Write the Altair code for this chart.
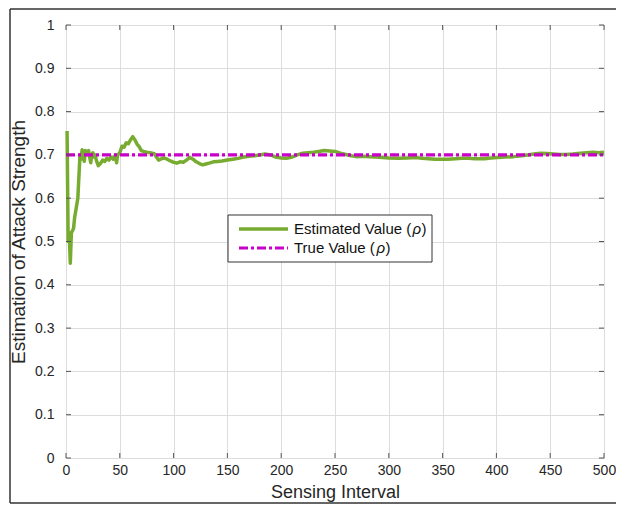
import altair as alt
import pandas as pd

# ---- data ----
est_x = [1, 2, 3, 4, 5, 6, 7, 8, 9, 10, 11, 12, 13, 14, 15, 16, 17, 18, 19, 20,
         21, 22, 23, 24, 25, 26, 27, 28, 29, 30, 32, 34, 36, 38, 40, 42, 44, 46, 47, 48,
         50, 52, 54, 56, 58, 60, 62, 63, 64, 66, 68, 70, 72, 75, 78, 82, 84, 86, 88, 91,
         94, 97, 100, 103, 106, 109, 112, 115, 118, 121, 124, 127, 130, 133, 137, 141, 145, 150, 155, 160,
         165, 170, 175, 180, 185, 190, 195, 200, 205, 210, 215, 220, 225, 230, 235, 240, 245, 250, 255, 260,
         265, 270, 276, 282, 288, 294, 300, 309, 317, 325, 331, 337, 343, 349, 355, 362, 368, 374, 380, 389,
         395, 401, 408, 416, 423, 429, 435, 441, 447, 453, 459, 465, 471, 478, 484, 490, 495, 500]
est_y = [0.755, 0.500, 0.520, 0.450, 0.520, 0.525, 0.530, 0.555, 0.570, 0.585, 0.600, 0.650, 0.700, 0.690, 0.712, 0.700, 0.685, 0.710, 0.700, 0.708,
         0.710, 0.695, 0.682, 0.700, 0.705, 0.695, 0.700, 0.690, 0.682, 0.675, 0.680, 0.688, 0.685, 0.692, 0.688, 0.695, 0.690, 0.700, 0.682, 0.700,
         0.705, 0.720, 0.718, 0.728, 0.726, 0.735, 0.742, 0.738, 0.735, 0.725, 0.719, 0.710, 0.708, 0.706, 0.705, 0.703, 0.695, 0.688, 0.690, 0.693,
         0.690, 0.686, 0.683, 0.681, 0.684, 0.683, 0.688, 0.694, 0.690, 0.684, 0.680, 0.677, 0.679, 0.681, 0.684, 0.685, 0.686, 0.688, 0.690, 0.692,
         0.695, 0.697, 0.698, 0.700, 0.702, 0.700, 0.695, 0.693, 0.692, 0.695, 0.700, 0.704, 0.705, 0.706, 0.708, 0.710, 0.709, 0.708, 0.704, 0.701,
         0.698, 0.696, 0.697, 0.696, 0.695, 0.694, 0.693, 0.692, 0.693, 0.694, 0.692, 0.691, 0.690, 0.690, 0.690, 0.691, 0.692, 0.692, 0.691, 0.691,
         0.693, 0.694, 0.695, 0.696, 0.698, 0.700, 0.702, 0.704, 0.703, 0.702, 0.701, 0.701, 0.702, 0.704, 0.705, 0.706, 0.705, 0.706]
true_x = [0, 500]
true_y = [0.7, 0.7]
legend_prefix = ["Estimated Value (", "True Value ("]
series_colors = ["#77AC30", "#C800C8"]
x_ticks = [0, 50, 100, 150, 200, 250, 300, 350, 400, 450, 500]
y_ticks = [0, 0.1, 0.2, 0.3, 0.4, 0.5, 0.6, 0.7, 0.8, 0.9, 1.0]

W, H = 538, 433
FONT = "Liberation Sans"
TXT = "#262626"

est_df = pd.DataFrame({"x": est_x, "y": est_y})
true_df = pd.DataFrame({"x": true_x, "y": true_y})
xt_df = pd.DataFrame({"t": x_ticks})
yt_df = pd.DataFrame({"t": y_ticks})
one = pd.DataFrame({"k": [0]})

xs = alt.Scale(domain=[0, 500], nice=False)
ys = alt.Scale(domain=[0, 1], nice=False)

xaxis = alt.Axis(values=x_ticks, title="Sensing Interval", grid=True, ticks=False, domain=False,
                 labelFontSize=14, titleFontSize=18, labelPadding=5, titlePadding=6,
                 titleFontWeight="normal", labelColor=TXT, titleColor=TXT,
                 labelFont=FONT, titleFont=FONT, labelFlush=False)
yaxis = alt.Axis(values=y_ticks, title="Estimation of Attack Strength", grid=True, ticks=False, domain=False,
                 labelFontSize=14, titleFontSize=19, labelPadding=12, titlePadding=6,
                 titleFontWeight="normal", labelColor=TXT, titleColor=TXT,
                 labelFont=FONT, titleFont=FONT, labelFlush=False,
                 labelExpr="datum.value == 0 ? '0' : datum.value == 1 ? '1' : format(datum.value, '.1f')")

X = alt.X("x:Q", scale=xs, axis=xaxis)
Y = alt.Y("y:Q", scale=ys, axis=yaxis)

est_line = alt.Chart(est_df).mark_line(strokeWidth=3.5, color=series_colors[0],
                                       strokeJoin="round").encode(x=X, y=Y)
true_line = alt.Chart(true_df).mark_line(strokeWidth=3.2, color=series_colors[1],
                                         strokeDash=[9, 3, 3, 3]).encode(x=X, y=Y)

tick_color = "#555"
xt_bot = alt.Chart(xt_df).mark_rule(color=tick_color, strokeWidth=1).encode(
    x=alt.X("t:Q", scale=xs), y=alt.value(H), y2=alt.value(H - 5))
xt_top = alt.Chart(xt_df).mark_rule(color=tick_color, strokeWidth=1).encode(
    x=alt.X("t:Q", scale=xs), y=alt.value(0), y2=alt.value(5))
yt_left = alt.Chart(yt_df).mark_rule(color=tick_color, strokeWidth=1).encode(
    y=alt.Y("t:Q", scale=ys), x=alt.value(0), x2=alt.value(5))
yt_right = alt.Chart(yt_df).mark_rule(color=tick_color, strokeWidth=1).encode(
    y=alt.Y("t:Q", scale=ys), x=alt.value(W), x2=alt.value(W - 5))

# ---- legend box (drawn as marks so the ρ can be italic) ----
LX0, LX1, LY0, LY1 = 162, 366, 190, 237
SX0, SX1 = 173, 222
ROW = [204, 223]
TX = 228
FS = 15
pre_w = [118.4, 82.5]  # width of the prefix text at 15px

leg_box = alt.Chart(one).mark_rect(fill="white", stroke="#333", strokeWidth=1).encode(
    x=alt.value(LX0), x2=alt.value(LX1), y=alt.value(LY0), y2=alt.value(LY1))
leg_layers = [leg_box]
for i in range(2):
    kw = dict(color=series_colors[i], strokeWidth=3.5 if i == 0 else 3.2)
    if i == 1:
        kw["strokeDash"] = [9, 3, 3, 3]
    leg_layers.append(alt.Chart(one).mark_rule(**kw).encode(
        x=alt.value(SX0), x2=alt.value(SX1), y=alt.value(ROW[i])))
    leg_layers.append(alt.Chart(one).mark_text(
        text=legend_prefix[i], align="left", baseline="middle", font=FONT, fontSize=FS, color="#111"
    ).encode(x=alt.value(TX), y=alt.value(ROW[i])))
    leg_layers.append(alt.Chart(one).mark_text(
        text="ρ", align="left", baseline="middle", font=FONT, fontSize=FS, fontStyle="italic", color="#111"
    ).encode(x=alt.value(TX + pre_w[i]), y=alt.value(ROW[i])))
    leg_layers.append(alt.Chart(one).mark_text(
        text=")", align="left", baseline="middle", font=FONT, fontSize=FS, color="#111"
    ).encode(x=alt.value(TX + pre_w[i] + 9), y=alt.value(ROW[i])))

# ---- outer figure frame ----
fr_color = "#333"
frame_left = alt.Chart(one).mark_rule(color=fr_color, strokeWidth=1.5, clip=False).encode(
    x=alt.value(-56), y=alt.value(-16), y2=alt.value(478))
frame_top = alt.Chart(one).mark_rule(color=fr_color, strokeWidth=1.5, clip=False).encode(
    x=alt.value(-56), x2=alt.value(560), y=alt.value(-16))
frame_bot = alt.Chart(one).mark_rule(color=fr_color, strokeWidth=1.5, clip=False).encode(
    x=alt.value(-56), x2=alt.value(560), y=alt.value(478))

chart = alt.layer(est_line, true_line, xt_bot, xt_top, yt_left, yt_right,
                  *leg_layers, frame_left, frame_top, frame_bot).properties(
    width=W, height=H,
    autosize=alt.AutoSizeParams(type="none"),
    padding={"left": 58, "top": 17, "right": 12, "bottom": 47},
).configure_view(stroke="#555", strokeWidth=1).configure_axis(
    gridColor="#e3e3e3", gridWidth=1
).configure(background="white")

chart.save("out.html", embed_options={"renderer": "svg", "actions": False})
